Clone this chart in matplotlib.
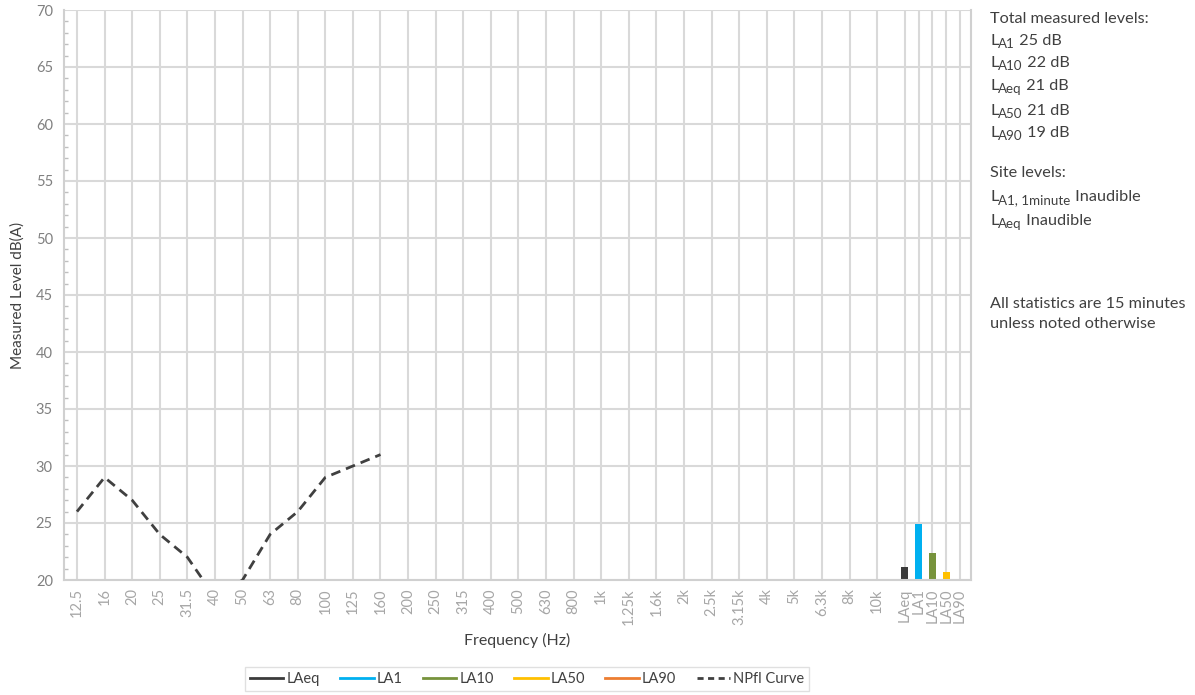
import matplotlib
matplotlib.use("Agg")
import matplotlib.pyplot as plt
from matplotlib.lines import Line2D
from matplotlib.ticker import MultipleLocator

plt.rcParams['font.family'] = ['Lato', 'DejaVu Sans']

freq_labels = ["12.5", "16", "20", "25", "31.5", "40", "50", "63", "80", "100", "125", "160",
               "200", "250", "315", "400", "500", "630", "800", "1k", "1.25k", "1.6k", "2k",
               "2.5k", "3.15k", "4k", "5k", "6.3k", "8k", "10k"]
stat_labels = ["LAeq", "LA1", "LA10", "LA50", "LA90"]
stat_values = [21.1, 24.9, 22.4, 20.7, 19.0]
stat_colors = ["#3b3b3b", "#00b0f0", "#77933c", "#ffc000", "#ed7d31"]

npfl_labels = ["12.5", "16", "20", "25", "31.5", "40", "50", "63", "80", "100", "125", "160"]
npfl_values = [26, 29, 27, 24, 22, 18.5, 20, 24, 26, 29, 30, 31]

# side annotations: list of (pieces, row y); piece = (text, is_subscript)
side_lines = [
    ([("Total measured levels:", False)], 18),
    ([("L", False), ("A1", True), (" 25 dB", False)], 40),
    ([("L", False), ("A10", True), (" 22 dB", False)], 62),
    ([("L", False), ("Aeq", True), (" 21 dB", False)], 85),
    ([("L", False), ("A50", True), (" 21 dB", False)], 110),
    ([("L", False), ("A90", True), (" 19 dB", False)], 132),
    ([("Site levels:", False)], 172),
    ([("L", False), ("A1, 1minute", True), (" Inaudible", False)], 196),
    ([("L", False), ("Aeq", True), (" Inaudible", False)], 220),
    ([("All statistics are 15 minutes", False)], 303),
    ([("unless noted otherwise", False)], 323),
]

W, H = 1195, 695
fig = plt.figure(figsize=(W / 100, H / 100), dpi=100)
ax = fig.add_axes([64 / W, 1 - 580 / H, (971 - 64) / W, (580 - 10) / H])

# x positions: frequency bands at unit spacing, statistics at half spacing
freq_pos = list(range(len(freq_labels)))
stat_pos = [len(freq_labels) + 0.5 * i for i in range(len(stat_labels))]
pos_of = dict(zip(freq_labels, freq_pos))

grid_c = "#d9d9d9"
for x in freq_pos + stat_pos:
    ax.axvline(x, color=grid_c, lw=1.5, zorder=0)
for y in range(20, 71, 5):
    ax.axhline(y, color=grid_c, lw=1.5, zorder=0)

ax.bar(stat_pos, stat_values, width=0.25, color=stat_colors, zorder=2, bottom=0)

ax.plot([pos_of[l] for l in npfl_labels], npfl_values, color="#404040", lw=2,
        ls=(0, (3.5, 2.2)), zorder=3)

ax.set_ylim(20, 70)
ax.set_xlim(-0.47, stat_pos[-1] + 0.4)
ax.set_yticks(range(20, 71, 5))
ax.yaxis.set_minor_locator(MultipleLocator(1))
ax.tick_params(axis='y', which='major', length=0, labelsize=10.5, labelcolor="#808080", pad=8)
ax.tick_params(axis='y', which='minor', length=3, direction='in', color="#bfbfbf", width=1)
ax.set_xticks(freq_pos + stat_pos)
ax.set_xticklabels(freq_labels + stat_labels, rotation=90, fontsize=10.5, color="#a6a6a6")
ax.tick_params(axis='x', length=0, pad=6)

for s in ax.spines.values():
    s.set_color("#d0d0d0")
    s.set_linewidth(1.5)
ax.spines['top'].set_visible(False)

ax.set_ylabel("Measured Level dB(A)", fontsize=11, color="#404040", labelpad=8)
ax.set_xlabel("Frequency (Hz)", fontsize=11.5, color="#404040", labelpad=6)

handles = [Line2D([], [], color=c, lw=2) for c in stat_colors]
handles.append(Line2D([], [], color="#404040", lw=2, ls=(0, (2.2, 1.6))))
leg = fig.legend(handles, stat_labels + ["NPfl Curve"], loc='lower center',
                 bbox_to_anchor=(527 / W, -3 / H), ncol=6, frameon=True, fontsize=10.5,
                 handlelength=2.3, columnspacing=1.4, handletextpad=0.2,
                 borderpad=0.35, fancybox=False)
leg.get_frame().set_edgecolor("#d9d9d9")
for t in leg.get_texts():
    t.set_color("#404040")

# right-hand notes with real subscripts
renderer = fig.canvas.get_renderer()
fs_main, fs_sub = 11.7, 9.6
for pieces, y in side_lines:
    x = 990
    base = y + 5
    for text, sub in pieces:
        yy = base + (3 if sub else 0)
        t = fig.text(x / W, 1 - yy / H, text, fontsize=fs_sub if sub else fs_main,
                     color="#404040", va='baseline', ha='left')
        bb = t.get_window_extent(renderer)
        x = bb.x1

fig.savefig("out.png", dpi=100)
